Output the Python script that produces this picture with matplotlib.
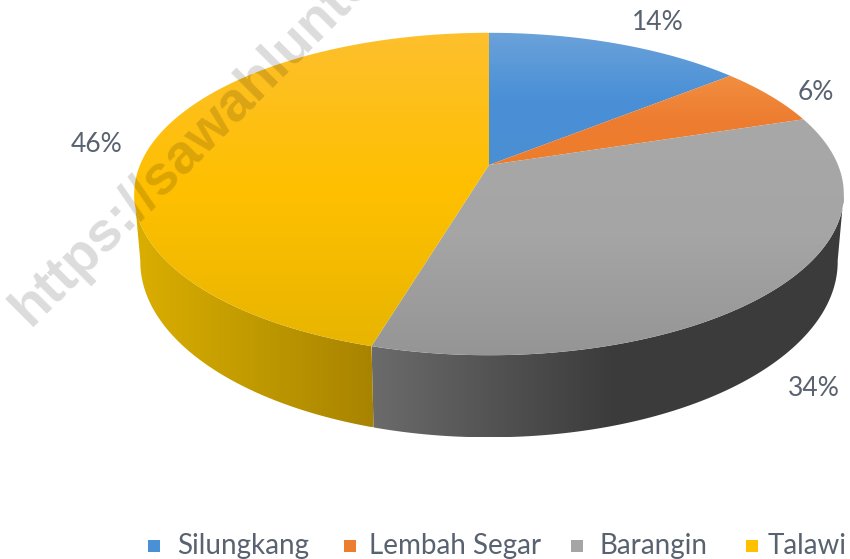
import numpy as np
import matplotlib
matplotlib.use("Agg")
import matplotlib.pyplot as plt
from matplotlib.colors import LinearSegmentedColormap
from matplotlib.patches import Polygon, Rectangle

# share of each district, clockwise from 12 o'clock
names = ["Silungkang", "Lembah Segar", "Barangin", "Talawi"]
values = [14.0, 6.0, 34.49, 45.51]
label_x = [658, 816, 814, 97]
label_y = [22, 92, 388, 144]
legend_box_x = [148, 344, 571, 746]
legend_text_x = [177, 369, 600, 768]

top_colors = [["#6ba2da", "#4a90d6", "#4a8fd4"],
              ["#f28e40", "#ed7d31", "#ee7c2a"],
              ["#a8a8a8", "#a5a5a5", "#959595"],
              ["#fdbf2d", "#ffc000", "#e8b500"]]
legend_colors = ["#4a90d6", "#ed7d31", "#a5a5a5", "#ffc000"]
side_colors = {2: ["#6b6b6b", "#3c3c3c", "#3b3b3b"],
               3: ["#dbae00", "#c09a00", "#a88300"]}

K = 0.18  # perspective of the disc
TOP = dict(x0=489, y0=165, rx=349, ry=156)
BOTTOM = dict(x0=489, y0=230, rx=343, ry=170)


def project(angle, plane):
    # angle in degrees clockwise from the back of the disc
    a = np.radians(angle)
    u, v = np.sin(a), np.cos(a)
    w = 1 + K * v
    return plane["x0"] + plane["rx"] * u / w, plane["y0"] - plane["ry"] * v / w


def fill_gradient(ax, verts, colors, horizontal=False):
    verts = np.array(verts)
    x0, x1 = verts[:, 0].min(), verts[:, 0].max()
    y0, y1 = verts[:, 1].min(), verts[:, 1].max()
    cmap = LinearSegmentedColormap.from_list("g", colors)
    grad = np.linspace(0, 1, 256)
    grad = grad.reshape(1, -1) if horizontal else grad.reshape(-1, 1)
    im = ax.imshow(grad, cmap=cmap, extent=(x0, x1, y1, y0), aspect="auto", zorder=2)
    im.set_clip_path(Polygon(verts, closed=True, transform=ax.transData))


fig = plt.figure(figsize=(8.5, 5.59), dpi=100)
ax = fig.add_axes([0, 0, 1, 1])
ax.set_autoscale_on(False)

edges = np.cumsum([0] + values) * 3.6

# side wall, only the two front slices show
for i, limit in {2: 100, 3: 260}.items():
    ts = np.linspace(edges[3], limit, 200)
    tx, ty = project(ts, TOP)
    bx, by = project(ts, BOTTOM)
    verts = list(zip(tx, ty)) + list(zip(bx[::-1], by[::-1]))
    fill_gradient(ax, verts, side_colors[i], horizontal=True)

# top face
for i, val in enumerate(values):
    ts = np.linspace(edges[i], edges[i + 1], 200)
    px, py = project(ts, TOP)
    verts = [(TOP["x0"], TOP["y0"])] + list(zip(px, py))
    fill_gradient(ax, verts, top_colors[i])

for val, lx, ly in zip(values, label_x, label_y):
    ax.text(lx, ly, f"{val:.0f}%", ha="center", va="center", fontsize=19,
            family="Lato", color="#596270", zorder=5)

for name, c, bx, tx in zip(names, legend_colors, legend_box_x, legend_text_x):
    ax.add_patch(Rectangle((bx, 540), 12, 12, color=c, lw=0, zorder=5))
    ax.text(tx, 546, name, ha="left", va="center", fontsize=20,
            family="Lato", color="#596270", zorder=5)

# watermark running off the top
ax.text(30, 328, "https://sawahlunto", rotation=45, rotation_mode="anchor",
        ha="left", va="baseline", fontsize=40, fontweight="bold",
        family="Liberation Sans", color="black", alpha=0.14, zorder=6, clip_on=True)

ax.set_xlim(0, 850)
ax.set_ylim(559, 0)
ax.axis("off")
fig.savefig("out.png", dpi=100, facecolor="white")
